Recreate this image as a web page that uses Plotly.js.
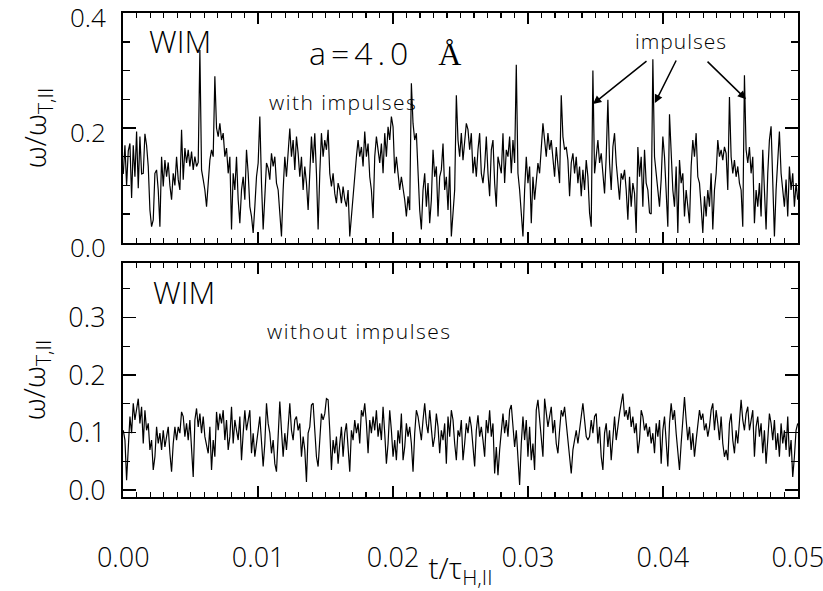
<!DOCTYPE html>
<html>
<head>
<meta charset="utf-8">
<script src="https://cdn.plot.ly/plotly-3.0.1.min.js"></script>
<style>html,body{margin:0;padding:0;background:#fff;}#chart{width:823px;height:591px;}</style>
</head>
<body>
<div id="chart"></div>
<script>
// time range (t / tau_H,||), uniformly sampled
const tStart = 0.0;
const tEnd = 0.05;

// omega / omega_T,|| WITH impulses (top panel)
const withImpulses = [
0.120,0.170,0.100,0.160,0.173,0.078,0.170,0.115,0.194,0.095,
0.185,0.120,0.121,0.190,0.170,0.133,0.057,0.028,0.040,0.121,
0.127,0.092,0.028,0.150,0.098,0.144,0.115,0.140,0.100,0.075,
0.121,0.100,0.150,0.110,0.092,0.197,0.110,0.165,0.139,0.162,
0.133,0.159,0.127,0.150,0.133,0.140,0.336,0.127,0.110,0.092,
0.063,0.110,0.144,0.162,0.150,0.290,0.200,0.185,0.208,0.179,
0.191,0.150,0.165,0.121,0.150,0.023,0.121,0.092,0.150,0.075,
0.034,0.092,0.115,0.075,0.162,0.121,0.063,0.046,0.017,0.063,
0.115,0.139,0.220,0.104,0.023,0.080,0.139,0.130,0.110,0.156,
0.133,0.150,0.104,0.092,0.046,0.011,0.092,0.150,0.115,0.162,
0.199,0.150,0.179,0.127,0.185,0.156,0.115,0.150,0.092,0.133,
0.104,0.057,0.115,0.185,0.139,0.191,0.121,0.023,0.121,0.191,
0.150,0.179,0.162,0.197,0.121,0.098,0.121,0.086,0.069,0.104,
0.092,0.069,0.098,0.075,0.063,0.092,0.011,0.046,0.092,0.121,
0.150,0.179,
0.150,0.167,0.133,0.194,0.150,0.173,0.115,0.092,
0.043,0.150,0.185,0.162,0.139,0.173,0.121,0.191,0.150,0.202,
0.179,0.220,0.202,0.121,0.150,0.121,0.092,0.115,0.098,0.075,
0.046,0.081,0.057,0.278,0.208,0.179,0.191,0.121,0.057,0.023,
0.092,0.121,0.063,0.104,0.034,0.075,0.162,0.115,0.133,0.046,
0.115,0.127,0.173,0.092,0.115,0.057,0.133,0.011,0.063,0.092,
0.257,0.179,0.150,0.191,0.144,0.179,0.208,0.197,0.162,0.191,
0.121,0.150,0.115,0.162,0.191,0.121,0.104,0.133,0.185,0.121,
0.081,0.162,0.179,0.104,0.063,0.150,0.133,0.121,0.191,0.104,
0.162,0.150,0.185,0.121,0.179,0.139,0.310,0.121,0.092,0.046,
0.011,0.092,0.150,0.104,0.133,0.034,0.115,0.075,0.104,0.139,
0.121,0.162,0.208,0.179,0.150,0.191,0.162,0.179,0.150,0.115,
0.167,0.133,0.104,0.257,0.185,0.162,0.167,0.144,0.081,0.139,
0.156,0.121,0.150,0.104,0.133,0.081,0.127,0.092,0.144,0.115,
0.052,0.028,0.300,0.121,0.150,0.179,0.139,0.156,0.121,0.086,
0.150,0.249,0.139,0.092,0.167,0.191,0.139,0.104,0.075,0.121,
0.110,0.127,0.092,0.040,0.115,0.063,0.104,0.086,0.017,0.167,
0.115,0.150,0.063,0.162,0.104,0.092,0.052,0.050,0.320,0.150,
0.121,0.092,0.063,0.110,0.185,0.150,0.092,0.028,0.224,0.150,
0.092,0.063,0.133,0.017,0.144,0.104,0.121,0.046,0.092,0.063,
0.034,0.133,0.179,0.150,0.191,0.115,0.104,0.063,0.017,0.081,
0.046,0.092,0.063,0.121,0.023,0.092,0.121,0.179,0.150,0.162,
0.144,0.167,0.156,0.092,0.254,0.150,0.121,0.144,0.115,0.133,
0.104,0.092,0.028,0.292,0.162,0.139,0.167,0.121,0.150,0.034,
0.092,0.063,0.104,0.046,0.162,0.092,0.023,0.121,0.179,0.203,
0.092,0.011,0.092,0.150,0.194,0.121,0.092,0.063,0.110,0.046,
0.133,0.092,0.121,0.063,0.104,0.075
];

// omega / omega_T,|| WITHOUT impulses (bottom panel)
const withoutImpulses = [
0.104,0.087,0.017,0.070,0.128,0.099,0.151,0.122,0.139,0.159,
0.116,0.145,0.081,0.139,0.104,0.116,0.070,0.087,0.035,0.058,
0.110,0.081,0.099,0.070,0.104,0.075,0.093,0.110,0.064,0.032,
0.081,0.110,0.087,0.110,0.099,0.136,0.128,0.093,0.116,0.087,
0.122,0.081,0.023,0.122,0.142,0.110,0.133,0.099,0.128,0.093,
0.081,0.064,0.110,0.035,0.087,0.058,0.136,0.104,0.133,0.116,
0.139,0.087,0.122,0.070,0.093,0.145,0.081,0.122,0.104,0.087,
0.128,0.052,0.099,0.139,0.104,0.122,0.139,0.064,0.099,0.058,
0.087,0.104,0.128,0.075,0.041,0.081,0.151,0.116,0.099,0.064,
0.087,0.046,0.032,0.093,0.154,0.104,0.058,0.099,0.070,0.110,
0.151,0.104,0.087,0.122,0.128,0.104,0.116,0.058,0.093,0.070,
0.014,0.099,0.110,0.148,0.151,0.104,0.058,0.041,0.099,0.133,
0.122,0.133,0.159,0.157,0.104,0.035,0.087,0.064,0.093,0.046,
0.081,0.110,0.058,0.099,0.116,0.070,0.032,0.104,0.087,0.122,
0.099,0.116,
0.081,0.139,0.128,0.151,0.116,0.064,0.122,0.099,
0.128,0.104,0.139,0.093,0.116,0.087,0.145,0.099,0.046,0.081,
0.139,0.104,0.058,0.087,0.052,0.104,0.081,0.133,0.052,0.075,
0.116,0.093,0.110,0.081,0.032,0.099,0.139,0.128,0.110,0.087,
0.122,0.151,0.116,0.099,0.139,0.110,0.075,0.093,0.133,0.110,
0.064,0.104,0.087,0.116,0.046,0.128,0.093,0.139,0.122,0.081,
0.052,0.104,0.093,0.122,0.052,0.081,0.116,0.099,0.128,0.110,
0.075,0.041,0.104,0.130,0.093,0.110,0.087,0.058,0.122,0.099,
0.139,0.093,0.116,0.029,0.075,0.026,0.070,0.104,0.133,0.099,
0.122,0.093,0.139,0.148,0.104,0.075,0.104,0.058,0.009,0.081,
0.128,0.087,0.122,0.058,0.110,0.052,0.081,0.035,0.139,0.157,
0.122,0.087,0.058,0.159,0.139,0.110,0.128,0.145,0.099,0.122,
0.081,0.064,0.104,0.139,0.128,0.145,0.116,0.081,0.058,0.029,
0.070,0.087,0.104,0.081,0.110,0.128,0.151,0.116,0.093,0.087,
0.093,0.122,0.099,0.128,0.133,0.081,0.110,0.058,0.035,0.099,
0.116,0.075,0.104,0.052,0.087,0.128,0.087,0.116,0.133,0.151,
0.168,0.128,0.139,0.122,0.145,0.110,0.128,0.099,0.116,0.064,
0.087,0.139,0.128,0.104,0.116,0.093,0.110,0.081,0.099,0.064,
0.116,0.093,0.122,0.046,0.104,0.128,0.075,0.041,0.116,0.151,
0.122,0.139,0.099,0.070,0.035,0.081,0.133,0.162,0.122,0.087,
0.110,0.070,0.099,0.058,0.087,0.116,0.139,0.122,0.133,0.104,
0.116,0.093,0.110,0.139,0.151,0.104,0.139,0.116,0.087,0.128,
0.081,0.058,0.070,0.052,0.116,0.133,0.087,0.064,0.104,0.081,
0.116,0.157,0.122,0.104,0.133,0.145,0.104,0.122,0.139,0.058,
0.110,0.128,0.093,0.116,0.064,0.104,0.046,0.087,0.133,0.116,
0.087,0.122,0.070,0.099,0.058,0.116,0.081,0.104,0.070,0.128,
0.058,0.087,0.023,0.058,0.104,0.116
];

// tick labels
const xTickVals = [0, 0.01, 0.02, 0.03, 0.04, 0.05];
const xTickText = ["0.00", "0.01", "0.02", "0.03", "0.04", "0.05"];
const yTopTickVals = [0, 0.2, 0.4];
const yTopTickText = ["0.0", "0.2", "0.4"];
const yBotTickVals = [0, 0.1, 0.2, 0.3];
const yBotTickText = ["0.0", "0.1", "0.2", "0.3"];

function timeGrid(n) {
  const out = [];
  for (let i = 0; i < n; i++) out.push(tStart + (tEnd - tStart) * i / (n - 1));
  return out;
}

const FONT = "Open Sans, Noto Sans, DejaVu Sans, sans-serif";
const W = 300;
const SP = (px, s) => "<span style=\"letter-spacing:" + px + "px\">" + s + "</span>";

const traces = [
  {x: timeGrid(withImpulses.length), y: withImpulses, xaxis: "x", yaxis: "y",
   type: "scatter", mode: "lines", line: {color: "#000", width: 1.2}, hoverinfo: "skip", showlegend: false},
  {x: timeGrid(withoutImpulses.length), y: withoutImpulses, xaxis: "x2", yaxis: "y2",
   type: "scatter", mode: "lines", line: {color: "#000", width: 1.2}, hoverinfo: "skip", showlegend: false}
];

const xCommon = {
  range: [tStart - 0.00002, tEnd + 0.00002], showgrid: false, zeroline: false,
  showline: true, linecolor: "#000", linewidth: 2, mirror: "ticks",
  ticks: "inside", ticklen: 11, tickwidth: 1.5, tickcolor: "#000",
  tickvals: xTickVals, ticktext: xTickText, ticklabeloverflow: "allow",
  minor: {dtick: 0.001, tick0: 0, ticklen: 5, tickwidth: 1.2, tickcolor: "#000", ticks: "inside", showgrid: false}
};
const yCommon = {
  showgrid: false, zeroline: false,
  showline: true, linecolor: "#000", linewidth: 2, mirror: "ticks",
  ticks: "inside", ticklen: 13, tickwidth: 1.5, tickcolor: "#000",
  tickfont: {family: FONT, size: 27, color: "#000", weight: W},
  ticklabelstandoff: 10, ticklabeloverflow: "allow",
  minor: {dtick: 0.05, tick0: 0, ticklen: 7, tickwidth: 1.2, tickcolor: "#000", ticks: "inside", showgrid: false}
};

const yTitle = {text: "ω/ω<sub>T,II</sub>", font: {family: FONT, size: 30, color: "#000", weight: W}, standoff: 14};

const layout = {
  width: 823, height: 591,
  margin: {l: 123, r: 25, t: 13, b: 94},
  paper_bgcolor: "#fff", plot_bgcolor: "#fff",
  font: {family: FONT, color: "#000", weight: W},
  xaxis: Object.assign({}, xCommon, {domain: [0, 1], anchor: "y", showticklabels: false}),
  xaxis2: Object.assign({}, xCommon, {domain: [0, 1], anchor: "y2", matches: "x",
    showticklabels: true, tickfont: {family: FONT, size: 27, color: "#000", weight: W}, ticklabelstandoff: 36,
    title: {text: "t/τ<sub>H,II</sub>", font: {family: FONT, size: 30, color: "#000", weight: W}, standoff: 9}}),
  yaxis: Object.assign({}, yCommon, {domain: [0.5248, 1], anchor: "x", range: [-0.0004, 0.4004],
    tickfont: {family: FONT, size: 26, color: "#000", weight: W}, ticklabelshift: 5,
    tickvals: yTopTickVals, ticktext: yTopTickText, title: yTitle}),
  yaxis2: Object.assign({}, yCommon, {domain: [0, 0.4835], anchor: "x2", range: [-0.012, 0.395],
    tickvals: yBotTickVals, ticktext: yBotTickText, title: yTitle}),
  annotations: [
    {xref: "paper", yref: "paper", x: 0.0844, y: 0.942, xanchor: "center", yanchor: "middle", text: "WIM", showarrow: false,
     font: {family: FONT, size: 31, color: "#000", weight: W}},
    {xref: "paper", yref: "paper", x: 0.0904, y: 0.4236, xanchor: "center", yanchor: "middle", text: "WIM", showarrow: false,
     font: {family: FONT, size: 31, color: "#000", weight: W}},
    {xref: "paper", yref: "paper", x: 0.388, y: 0.918, xanchor: "center", yanchor: "middle",
     text: SP(5, "a=4.0") + "   <span style=\"font-family:'Liberation Serif',serif\">Å</span>", showarrow: false,
     font: {family: FONT, size: 32, color: "#000", weight: W}},
    {xref: "paper", yref: "paper", x: 0.326, y: 0.816, xanchor: "center", yanchor: "middle", text: SP(1.5, "with impulses"), showarrow: false,
     font: {family: FONT, size: 21, color: "#000", weight: W}},
    {xref: "paper", yref: "paper", x: 0.351, y: 0.343, xanchor: "center", yanchor: "middle", text: SP(1.5, "without impulses"), showarrow: false,
     font: {family: FONT, size: 21, color: "#000", weight: W}},
    {xref: "paper", yref: "paper", x: 0.827, y: 0.942, xanchor: "center", yanchor: "middle", text: SP(1, "impulses"), showarrow: false,
     font: {family: FONT, size: 21, color: "#000", weight: W}},
    {xref: "paper", yref: "paper", x: 0.6963, y: 0.812, text: "", showarrow: true,
     ax: 55, ay: -44, arrowhead: 2, arrowsize: 1.1, arrowwidth: 1.5, arrowcolor: "#000", standoff: 0},
    {xref: "paper", yref: "paper", x: 0.788, y: 0.814, text: "", showarrow: true,
     ax: 22, ay: -44, arrowhead: 2, arrowsize: 1.1, arrowwidth: 1.5, arrowcolor: "#000", standoff: 0},
    {xref: "paper", yref: "paper", x: 0.923, y: 0.822, text: "", showarrow: true,
     ax: -40, ay: -39, arrowhead: 2, arrowsize: 1.1, arrowwidth: 1.5, arrowcolor: "#000", standoff: 0}
  ]
};

Plotly.newPlot("chart", traces, layout, {staticPlot: true, displayModeBar: false});
</script>
</body>
</html>
